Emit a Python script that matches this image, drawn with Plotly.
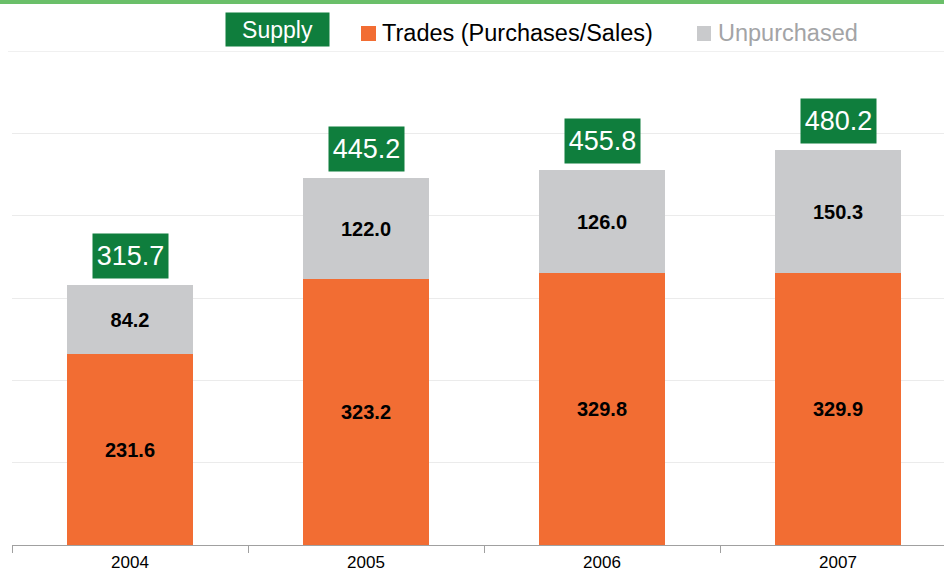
import plotly.graph_objects as go

years = ["2004", "2005", "2006", "2007"]
trades = [231.6, 323.2, 329.8, 329.9]
unpurchased = [84.2, 122.0, 126.0, 150.3]
supply = [315.7, 445.2, 455.8, 480.2]

ORANGE = "#f26d33"
GRAY = "#c9cacc"
GREEN = "#0f7e3d"
FONT = "Liberation Sans, Arial, sans-serif"

W, H = 944, 572
L, R, T, B = 12, 944, 51, 545


def px(x):
    return (x - L) / (R - L)


def py(y):
    return (B - y) / (B - T)


fig = go.Figure()
fig.add_trace(go.Bar(
    x=years, y=trades, marker_color=ORANGE, marker_line_width=0,
    text=[f"{v:.1f}" for v in trades], textposition="inside",
    insidetextanchor="middle", textangle=0,
    textfont=dict(family=FONT, size=20, color="black", weight="bold"),
    width=0.53, name="Trades (Purchases/Sales)"))
fig.add_trace(go.Bar(
    x=years, y=unpurchased, marker_color=GRAY, marker_line_width=0,
    text=[f"{v:.1f}" for v in unpurchased], textposition="inside",
    insidetextanchor="middle", textangle=0,
    textfont=dict(family=FONT, size=20, color="black", weight="bold"),
    width=0.53, name="Unpurchased"))

annotations = []
for i, s in enumerate(supply):
    annotations.append(dict(
        x=i, y=s, xref="x", yref="y", text=f"{s:.1f}", showarrow=False,
        xanchor="center", yanchor="bottom", yshift=6, width=73, height=42,
        bgcolor=GREEN, font=dict(family=FONT, size=27, color="white")))

# Legend replica
annotations.append(dict(
    x=px(277.5), y=py(30), xref="paper", yref="paper", text="Supply",
    showarrow=False, xanchor="center", yanchor="middle", width=101, height=31,
    bgcolor=GREEN, font=dict(family=FONT, size=23, color="white")))
annotations.append(dict(
    x=px(380), y=py(33), xref="paper", yref="paper",
    text="Trades (Purchases/Sales)", showarrow=False,
    xanchor="left", yanchor="middle",
    font=dict(family=FONT, size=23.5, color="black")))
annotations.append(dict(
    x=px(716), y=py(33), xref="paper", yref="paper",
    text="Unpurchased", showarrow=False,
    xanchor="left", yanchor="middle",
    font=dict(family=FONT, size=23.5, color="#a3a4a6")))

shapes = [
    dict(type="rect", xref="paper", yref="paper",
         x0=px(0), x1=px(944), y0=py(4), y1=py(0),
         fillcolor="#6abf69", line_width=0, layer="above"),
    dict(type="line", xref="paper", yref="paper",
         x0=px(8), x1=px(944), y0=py(51.5), y1=py(51.5),
         line=dict(color="#f0f0f0", width=1), layer="below"),
    dict(type="rect", xref="paper", yref="paper",
         x0=px(361), x1=px(376), y0=py(41), y1=py(26),
         fillcolor=ORANGE, line_width=0),
    dict(type="rect", xref="paper", yref="paper",
         x0=px(697), x1=px(711), y0=py(41), y1=py(26),
         fillcolor=GRAY, line_width=0),
]

fig.update_layout(
    width=W, height=H, barmode="stack", showlegend=False,
    plot_bgcolor="white", paper_bgcolor="white",
    margin=dict(l=L, r=W - R, t=T, b=H - B, pad=0, autoexpand=False),
    annotations=annotations, shapes=shapes,
    font=dict(family=FONT),
)
fig.update_xaxes(
    type="category", automargin=False,
    range=[-0.5, 3.449], tickson="boundaries", ticks="outside", ticklen=7,
    tickcolor="#a0a0a0", showline=True, linecolor="#a0a0a0", linewidth=1,
    ticklabelstandoff=2,
    tickfont=dict(family=FONT, size=17, color="black"), showgrid=False)
fig.update_yaxes(
    automargin=False,
    range=[0, 600], dtick=100, showticklabels=False, showgrid=True,
    gridcolor="#ebebeb", gridwidth=1, zeroline=False)

fig.write_html(
    "out.html",
    config={"displayModeBar": False},
    post_script="document.body.style.margin='0';document.body.style.overflow='hidden';")
